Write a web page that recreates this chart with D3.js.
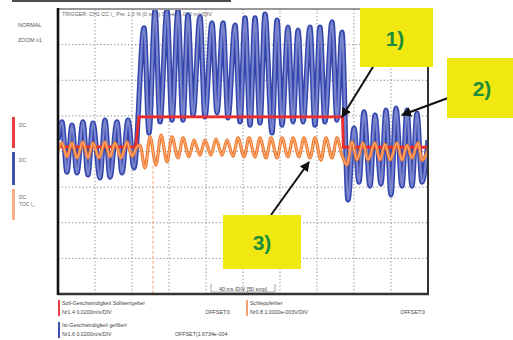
<!DOCTYPE html>
<html><head><meta charset="utf-8">
<script src="https://cdn.jsdelivr.net/npm/d3@7"></script>
<style>
body{margin:0;background:#fff}
svg{display:block}
text{font-family:"Liberation Sans",Arial,sans-serif}
</style>
</head><body>
<svg id="c" width="513" height="340"></svg>
<script>
// time in ms (40 ms/DIV), value in divisions from screen centre
const xGrid = [0,40,80,120,160,200,240,280,320,360,400];
const yGrid = [-4,-3,-2,-1,0,1,2,3,4];

const bluePts = [[0,0.32],[4.3,0.83],[9.7,-0.58],[15.1,0.74],[20.5,-0.60],[27.0,0.83],[32.4,-0.66],[37.8,0.80],[45.4,-0.74],[50.8,0.88],[56.2,-0.72],[63.8,0.83],[69.2,-0.60],[75.7,0.88],[82.2,-0.46],
 [93.0,3.47],[98.4,0.52],[104.9,3.95],[110.3,0.83],[117.8,3.95],[123.2,0.88],[129.7,3.95],[135.1,0.88],[140.5,3.83],[146.0,1.02],[153.5,3.78],[158.9,0.97],[166.5,3.61],[171.9,1.08],[178.4,3.61],[183.8,0.94],[191.4,3.55],[196.8,0.83],[202.2,3.75],[207.6,0.74],[213.0,3.75],[218.4,0.80],[223.8,3.86],[231.4,0.52],[236.8,3.69],[242.2,0.74],[248.6,3.49],[254.1,0.83],[259.5,3.41],[264.9,0.83],[272.4,3.49],[277.8,0.74],[283.2,3.49],[288.6,0.83],[296.2,3.64],[301.6,0.88],[307.0,3.35],
 [313.5,-1.36],[320.0,0.66],[325.4,-0.86],[330.8,1.11],[337.3,-0.97],[342.7,1.02],[349.2,-0.91],[354.6,1.16],[360.0,-1.22],[365.4,1.22],[371.9,-0.97],[377.3,1.16],[382.7,-0.97],[388.1,1.08],[393.5,-0.86],[400,0.32]];

const orangePts = [[0,0.04],[4.3,0.24],[9.7,-0.15],[15.1,0.24],[20.5,-0.18],[27.0,0.27],[32.4,-0.18],[37.8,0.24],[44.3,-0.18],[50.8,0.27],[56.2,-0.15],[61.6,0.24],[68.1,-0.18],[74.6,0.27],[80.0,-0.13],[85.4,0.13],
 [88.6,0.18],[94.1,-0.46],[99.5,0.41],[105.9,-0.38],[111.4,0.46],[117.8,-0.29],[123.2,0.41],[129.7,-0.18],[135.1,0.38],[141.6,-0.15],[147.0,0.32],[153.5,-0.10],[158.9,0.32],[165.4,-0.10],[170.8,0.35],[177.3,-0.10],[182.7,0.32],[189.2,-0.13],[194.6,0.38],[201.1,-0.15],[206.5,0.38],[213.0,-0.15],[218.4,0.38],[224.9,-0.18],[230.3,0.38],[236.8,-0.18],[242.2,0.38],[248.6,-0.15],[254.1,0.38],[260.5,-0.15],[265.9,0.38],[272.4,-0.18],[277.8,0.38],[284.3,-0.24],[289.7,0.38],[296.2,-0.18],[301.6,0.38],[307.0,-0.10],
 [312.4,-0.38],[317.8,0.27],[323.2,-0.24],[329.7,0.24],[335.1,-0.24],[342.7,0.24],[348.1,-0.24],[353.5,0.21],[358.9,-0.24],[366.5,0.24],[371.9,-0.24],[377.3,0.18],[382.7,-0.18],[389.2,0.24],[393.5,-0.24],[400,0.04]];

const redPts = [[0,0.13],[84,0.13],[87.5,0.97],[307.5,0.97],[308.5,0.12],[400,0.12]];
const triggerT = 102.7;

const headerText = "TRIGGER: CH1 CC \\_  Pre: 1.0 % (0 smp)  Speed 1.000 m/s/DIV";
const timebaseText = "40 ms /DIV [50 smp]";
const leftLabels = ["NORMAL","ZOOM x1"];
const channels = [
  {name:"Soll-Geschwindigkeit Sollwertgeber", scale:"Nr1.4  0.0200m/s/DIV", offset:"OFFSET:0", color:"#e84040"},
  {name:"Schleppfehler", scale:"Nr0.8  1.0000e-003V/DIV", offset:"OFFSET:0", color:"#f4a070"},
  {name:"Ist-Geschwindigkeit gefiltert", scale:"Nr1.6  0.0200m/s/DIV", offset:"OFFSET(1.6734e-004", color:"#4050b0"}
];
const callouts = ["1)","2)","3)"];

const svg = d3.select("#c");
const L=58, R=428, T=9, B=294;
const x = d3.scaleLinear().domain([0,400]).range([L,R]);
const y = d3.scaleLinear().domain([-4,4]).range([B,T]);

// top rule
svg.append("line").attr("x1",12).attr("x2",231).attr("y1",1).attr("y2",1).attr("stroke","#111").attr("stroke-width",1.6);

// left labels
svg.selectAll("text.ll").data(leftLabels).join("text").attr("class","ll")
  .attr("x",18).attr("y",(d,i)=>27+i*15).attr("font-size",5.5).attr("fill","#555").text(d=>d);

// channel bars on the left
const chBars=[{y0:117,y1:148,c:"#e84040",t:["DC"]},{y0:152,y1:185,c:"#4050b0",t:["DC"]},{y0:189,y1:220,c:"#f8b084",t:["DC","TOC \\_"]}];
chBars.forEach(b=>{
  svg.append("rect").attr("x",12).attr("y",b.y0).attr("width",3).attr("height",b.y1-b.y0).attr("fill",b.c);
  b.t.forEach((s,i)=>svg.append("text").attr("x",19).attr("y",b.y0+10+i*7).attr("font-size",5).attr("fill","#666").text(s));
});

// grid
const g = svg.append("g");
g.selectAll("line.vx").data(xGrid.slice(1,-1)).join("line").attr("x1",d=>x(d)).attr("x2",d=>x(d)).attr("y1",T).attr("y2",B)
  .attr("stroke","#9a9a9a").attr("stroke-width",1).attr("stroke-dasharray","1.5,2");
g.selectAll("line.hy").data(yGrid.slice(1,-1)).join("line").attr("y1",d=>y(d)).attr("y2",d=>y(d)).attr("x1",L).attr("x2",R)
  .attr("stroke","#9a9a9a").attr("stroke-width",1).attr("stroke-dasharray","1.5,2");

// trigger marker
svg.append("line").attr("x1",x(triggerT)).attr("x2",x(triggerT)).attr("y1",y(-0.4)).attr("y2",B)
  .attr("stroke","#f4a070").attr("stroke-width",1).attr("stroke-dasharray","3,2");

// header
svg.append("text").attr("x",62).attr("y",15.5).attr("font-size",5.3).attr("fill","#666").text(headerText);

// traces
svg.append("clipPath").attr("id","pc").append("rect").attr("x",L).attr("y",T+1).attr("width",R-L).attr("height",B-T);
const tr = svg.append("g").attr("clip-path","url(#pc)");
const lineC = d3.line().x(d=>x(d[0])).y(d=>y(d[1])).curve(d3.curveMonotoneX);
const lineL = d3.line().x(d=>x(d[0])).y(d=>y(d[1]));
tr.append("path").attr("d",lineC(bluePts)).attr("fill","none").attr("stroke","#3346ae").attr("stroke-width",5.2).attr("stroke-linejoin","round");
tr.append("path").attr("d",lineC(bluePts)).attr("fill","none").attr("stroke","#7a84cc").attr("stroke-width",2.2);
tr.append("path").attr("d",lineL(redPts)).attr("fill","none").attr("stroke","#ee2a2a").attr("stroke-width",2.8);
tr.append("path").attr("d",lineC(orangePts)).attr("fill","none").attr("stroke","#f2792e").attr("stroke-width",3.2);
tr.append("path").attr("d",lineC(orangePts)).attr("fill","none").attr("stroke","#fbb98c").attr("stroke-width",1);

// frame
svg.append("line").attr("x1",L).attr("x2",R).attr("y1",T).attr("y2",T).attr("stroke","#777").attr("stroke-width",1.5);
svg.append("line").attr("x1",R).attr("x2",R).attr("y1",T).attr("y2",B).attr("stroke","#333").attr("stroke-width",2);
svg.append("line").attr("x1",L).attr("x2",R+1).attr("y1",B).attr("y2",B).attr("stroke","#333").attr("stroke-width",2.5);
svg.append("line").attr("x1",L).attr("x2",L).attr("y1",T-1).attr("y2",B+1).attr("stroke","#111").attr("stroke-width",2.6);

// timebase
svg.append("text").attr("x",243).attr("y",291).attr("text-anchor","middle").attr("font-size",5.3).attr("fill","#444").text(timebaseText);
svg.append("path").attr("d","M211,284 V292 H275 V284").attr("fill","none").attr("stroke","#666").attr("stroke-width",0.6);

// bottom legend
const legPos=[{x:58,y:300,ox:230},{x:246,y:300,ox:425},{x:58,y:322,ox:null}];
channels.forEach((c,i)=>{
  const p=legPos[i];
  svg.append("rect").attr("x",p.x).attr("y",p.y).attr("width",2).attr("height",16).attr("fill",c.color);
  svg.append("text").attr("x",p.x+4).attr("y",p.y+5).attr("font-size",5.3).attr("fill","#444").text(c.name);
  svg.append("text").attr("x",p.x+4).attr("y",p.y+14).attr("font-size",5.3).attr("fill","#444").text(c.scale);
  if(p.ox) svg.append("text").attr("x",p.ox).attr("y",p.y+14).attr("text-anchor","end").attr("font-size",5.3).attr("fill","#444").text(c.offset);
  else svg.append("text").attr("x",175).attr("y",p.y+14).attr("font-size",5.3).attr("fill","#444").text(c.offset);
});

// callout boxes
const boxes=[{x:360,y:8,w:73,h:59,tx:395,ty:46},{x:447,y:58,w:66,h:60,tx:482,ty:96},{x:223,y:215,w:78,h:54,tx:262,ty:250}];
const defs=svg.append("defs");
defs.append("marker").attr("id","ah").attr("viewBox","0 0 10 10").attr("refX",9).attr("refY",5)
  .attr("markerWidth",5).attr("markerHeight",5).attr("orient","auto")
  .append("path").attr("d","M0,0 L10,5 L0,10 z").attr("fill","#111");
const arrows=[[376,62,342,117],[448,98,402,115],[271,215,309,162]];
arrows.forEach(a=>svg.append("line").attr("x1",a[0]).attr("y1",a[1]).attr("x2",a[2]).attr("y2",a[3])
  .attr("stroke","#111").attr("stroke-width",2).attr("marker-end","url(#ah)"));
boxes.forEach((b,i)=>{
  svg.append("rect").attr("x",b.x).attr("y",b.y).attr("width",b.w).attr("height",b.h).attr("fill","#f1e812");
  svg.append("text").attr("x",b.tx).attr("y",b.ty).attr("text-anchor","middle").attr("font-size",21)
    .attr("font-weight","bold").attr("fill","#1f8c3c").text(callouts[i]);
});
</script>
</body></html>
